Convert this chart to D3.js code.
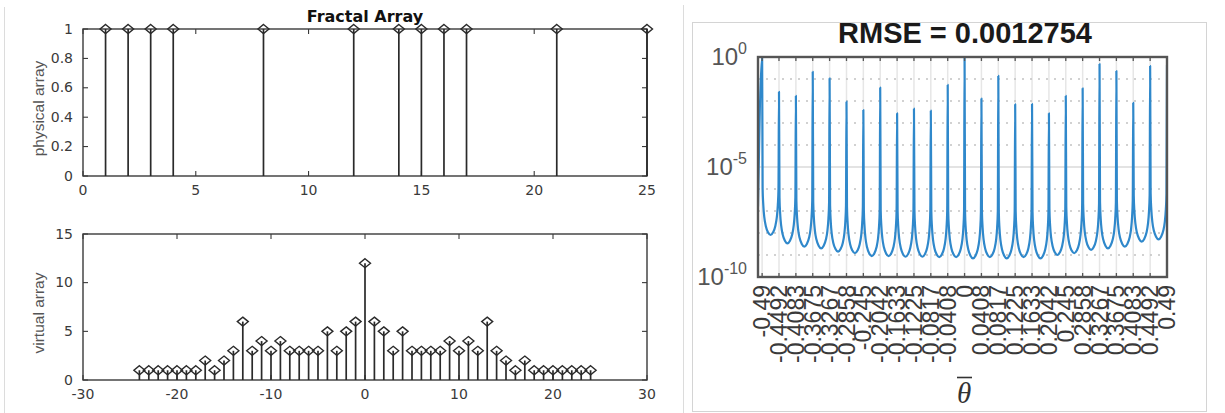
<!DOCTYPE html>
<html><head><meta charset="utf-8">
<script src="https://cdn.jsdelivr.net/npm/d3@7"></script>
<style>body{margin:0;background:#fff}svg{display:block}</style>
</head><body>
<svg id="c" width="1225" height="413"></svg>
<script>
// ---------------- data ----------------
const physPositions = [1,2,3,4,8,12,14,15,16,17,21,25];
const physValues    = [1,1,1,1,1,1,1,1,1,1,1,1];
const physXTicks = [0,5,10,15,20,25];
const physYTicks = [0,0.2,0.4,0.6,0.8,1];

const virtLags = [-24,-23,-22,-21,-20,-19,-18,-17,-16,-15,-14,-13,-12,-11,-10,-9,-8,-7,-6,-5,-4,-3,-2,-1,0,
                  1,2,3,4,5,6,7,8,9,10,11,12,13,14,15,16,17,18,19,20,21,22,23,24];
const virtValues = [1,1,1,1,1,1,1,2,1,2,3,6,3,4,3,4,3,3,3,3,5,3,5,6,12,
                    6,5,3,5,3,3,3,3,4,3,4,3,6,3,2,1,2,1,1,1,1,1,1,1];
const virtXTicks = [-30,-20,-10,0,10,20,30];
const virtYTicks = [0,5,10,15];

const thetaTicks = [-0.49,-0.4492,-0.4083,-0.3675,-0.3267,-0.2858,-0.245,-0.2042,-0.1633,-0.1225,-0.0817,-0.0408,0,
                    0.0408,0.0817,0.1225,0.1633,0.2042,0.245,0.2858,0.3267,0.3675,0.4083,0.4492,0.49];
const thetaLabels = ["-0.49","-0.4492","-0.4083","-0.3675","-0.3267","-0.2858","-0.245","-0.2042","-0.1633","-0.1225","-0.0817","-0.0408","0",
                     "0.0408","0.0817","0.1225","0.1633","0.2042","0.245","0.2858","0.3267","0.3675","0.4083","0.4492","0.49"];
const thetaRange = [-0.5, 0.49];
// spectrum: log10 of peak heights, valley minima, and edge values
const peakLog10 = [0,-1.58,-1.77,-0.67,-0.97,-2.03,-2.41,-1.39,-2.56,-2.35,-2.44,-1.27,0,
                   -1.89,-0.86,-2.15,-2.14,-2.56,-1.77,-1.42,-0.32,-0.64,-2.08,-0.41,-0.36];
const valleyLog10 = [-8.09,-8.47,-8.62,-8.70,-8.85,-8.92,-9.05,-9.05,-9.08,-9.08,-9.10,-9.10,
                     -9.15,-9.10,-9.15,-9.10,-9.15,-9.00,-8.92,-8.77,-8.70,-8.62,-8.39,-8.29];
const edgeLog10 = [-6.8, -6.73];
// valley shape: fraction of the gap from a peak, decades above valley floor
const valleyShapeT    = [0.03,0.07,0.13,0.22,0.35];
const valleyShapeRise = [2.1,1.35,0.8,0.4,0.12];
const logYTicks = [-10,-5,0];
const logMinor  = [-9,-8,-7,-6,-4,-3,-2,-1];

// ---------------- drawing ----------------
const svg = d3.select("#c");
const ink = "#262626";

svg.append("line").attr("x1",4.5).attr("x2",4.5).attr("y1",7).attr("y2",413).attr("stroke","#dcdcdc");
svg.append("line").attr("x1",683.5).attr("x2",683.5).attr("y1",5).attr("y2",413).attr("stroke","#dcdcdc");
svg.append("rect").attr("x",692.5).attr("y",22.5).attr("width",514).attr("height",389)
   .attr("fill","none").attr("stroke","#d4d4d4");

function diamond(cx, cy){
  const w=5.5, h=4.5;
  return `M${cx},${cy-h}L${cx+w},${cy}L${cx},${cy+h}L${cx-w},${cy}Z`;
}

function stemPanel(opts){
  const {x0,x1,y0,y1,xd,yd,xt,yt,xs,ys,ylabel,yfmt} = opts;
  const x = d3.scaleLinear().domain(xd).range([x0,x1]);
  const y = d3.scaleLinear().domain(yd).range([y1,y0]);
  const g = svg.append("g");
  const tl = 5;
  xt.forEach(v=>{
    g.append("line").attr("x1",x(v)).attr("x2",x(v)).attr("y1",y1).attr("y2",y1-tl).attr("stroke",ink);
    g.append("line").attr("x1",x(v)).attr("x2",x(v)).attr("y1",y0).attr("y2",y0+tl).attr("stroke",ink);
  });
  yt.forEach(v=>{
    g.append("line").attr("x1",x0).attr("x2",x0+tl).attr("y1",y(v)).attr("y2",y(v)).attr("stroke",ink);
    g.append("line").attr("x1",x1).attr("x2",x1-tl).attr("y1",y(v)).attr("y2",y(v)).attr("stroke",ink);
  });
  g.append("rect").attr("x",x0).attr("y",y0).attr("width",x1-x0).attr("height",y1-y0)
    .attr("fill","none").attr("stroke","#3a3a3a").attr("stroke-width",1.4);
  g.selectAll(".xl").data(xt).enter().append("text")
    .attr("x",d=>x(d)).attr("y",y1+18.5).attr("text-anchor","middle")
    .attr("font-family","DejaVu Sans").attr("font-size",14).attr("fill","#3a3a3a").text(d=>d);
  g.selectAll(".yl").data(yt).enter().append("text")
    .attr("x",x0-10).attr("y",d=>y(d)+4.5).attr("text-anchor","end")
    .attr("font-family","DejaVu Sans").attr("font-size",14).attr("fill","#3a3a3a").text(yfmt);
  g.append("text").attr("transform",`translate(${x0-39},${(y0+y1)/2+6}) rotate(-90)`)
    .attr("text-anchor","middle").attr("font-family","Liberation Sans").attr("font-size",15.5)
    .attr("fill","#555").text(ylabel);
  xs.forEach((v,i)=>{
    g.append("line").attr("x1",x(v)).attr("x2",x(v)).attr("y1",y(0)).attr("y2",y(ys[i]))
      .attr("stroke","#2a2a2a").attr("stroke-width",1.7);
  });
  xs.forEach((v,i)=>{
    g.append("path").attr("d",diamond(x(v),y(ys[i]))).attr("fill","none")
      .attr("stroke","#2a2a2a").attr("stroke-width",1.4);
  });
  return {x,y,g};
}

stemPanel({x0:83,x1:647,y0:29,y1:176,xd:[0,25],yd:[0,1],xt:physXTicks,yt:physYTicks,
  xs:physPositions,ys:physValues,ylabel:"physical array",yfmt:d=>d});
svg.append("text").attr("x",365).attr("y",22).attr("text-anchor","middle")
  .attr("font-family","DejaVu Sans").attr("font-weight","bold").attr("font-size",16)
  .attr("fill","#111").text("Fractal Array");

stemPanel({x0:83,x1:647,y0:234,y1:380,xd:[-30,30],yd:[0,15],xt:virtXTicks,yt:virtYTicks,
  xs:virtLags,ys:virtValues,ylabel:"virtual array",yfmt:d=>d});

// ---------------- right panel ----------------
const RX0=758, RX1=1167, RY0=57, RY1=277;
const xr = d3.scaleLinear().domain(thetaRange).range([RX0,RX1]);
const yr = d3.scaleLog().domain([1e-10,1]).range([RY1,RY0]);
const gr = svg.append("g");
thetaTicks.forEach(v=>{
  gr.append("line").attr("x1",xr(v)).attr("x2",xr(v)).attr("y1",RY0).attr("y2",RY1)
    .attr("stroke","#e6e6e6").attr("stroke-width",1.5);
});
logMinor.forEach(e=>{
  gr.append("line").attr("x1",RX0).attr("x2",RX1).attr("y1",yr(10**e)).attr("y2",yr(10**e))
    .attr("stroke","#c2c2c2").attr("stroke-width",1.5).attr("stroke-dasharray","2 6");
});
gr.append("line").attr("x1",RX0).attr("x2",RX1).attr("y1",yr(1e-5)).attr("y2",yr(1e-5))
  .attr("stroke","#dadada").attr("stroke-width",1.5);

const pts = [[thetaRange[0], edgeLog10[0]]];
thetaTicks.forEach((t,i)=>{
  pts.push([t, peakLog10[i]]);
  if(i < valleyLog10.length){
    const t2 = thetaTicks[i+1], gap = t2 - t, v = valleyLog10[i];
    valleyShapeT.forEach((f,k)=> pts.push([t + f*gap, v + valleyShapeRise[k]]));
    pts.push([t + gap/2, v]);
    for(let k=valleyShapeT.length-1;k>=0;k--) pts.push([t2 - valleyShapeT[k]*gap, v + valleyShapeRise[k]]);
  }
});
const clip = svg.append("clipPath").attr("id","rc");
clip.append("rect").attr("x",RX0).attr("y",RY0-1).attr("width",RX1-RX0).attr("height",RY1-RY0+1);
const line = d3.line().x(d=>xr(d[0])).y(d=>yr(10**d[1])).curve(d3.curveMonotoneX);
gr.append("path").attr("d",line(pts)).attr("fill","none").attr("stroke","#2f88cb")
  .attr("stroke-width",2.2).attr("clip-path","url(#rc)").attr("stroke-linejoin","round");

thetaTicks.forEach(v=>{
  gr.append("line").attr("x1",xr(v)).attr("x2",xr(v)).attr("y1",RY1).attr("y2",RY1-4).attr("stroke","#555").attr("stroke-width",1.3);
  gr.append("line").attr("x1",xr(v)).attr("x2",xr(v)).attr("y1",RY0).attr("y2",RY0+4).attr("stroke","#555").attr("stroke-width",1.3);
});
gr.append("rect").attr("x",RX0).attr("y",RY0).attr("width",RX1-RX0).attr("height",RY1-RY0)
  .attr("fill","none").attr("stroke","#555").attr("stroke-width",2.4);

gr.selectAll(".tl").data(thetaTicks).enter().append("text")
  .attr("transform",(d)=>`translate(${xr(d)},${RY1+8}) rotate(-90)`)
  .attr("dy","0.35em").attr("text-anchor","end")
  .attr("font-family","Liberation Sans").attr("font-size",23).attr("fill","#3a3a3a")
  .text((d,i)=>thetaLabels[i]);
logYTicks.forEach(e=>{
  const t = gr.append("text").attr("x",RX0-11).attr("y",yr(10**e)+8).attr("text-anchor","end")
    .attr("font-family","Liberation Sans").attr("font-size",24).attr("fill","#555");
  t.append("tspan").text("10");
  t.append("tspan").attr("dy",-11).attr("font-size",16).text(String(e));
});
svg.append("text").attr("x",965).attr("y",43).attr("text-anchor","middle")
  .attr("font-family","Liberation Sans").attr("font-weight","bold").attr("font-size",29)
  .attr("fill","#1a1a1a").text("RMSE = 0.0012754");
svg.append("text").attr("x",964).attr("y",403).attr("text-anchor","middle")
  .attr("font-family","Liberation Serif").attr("font-style","italic").attr("font-size",29)
  .attr("fill","#333").text("θ");
svg.append("line").attr("x1",957).attr("x2",972).attr("y1",377.5).attr("y2",377.5)
  .attr("stroke","#333").attr("stroke-width",1.6);
</script>
</body></html>
